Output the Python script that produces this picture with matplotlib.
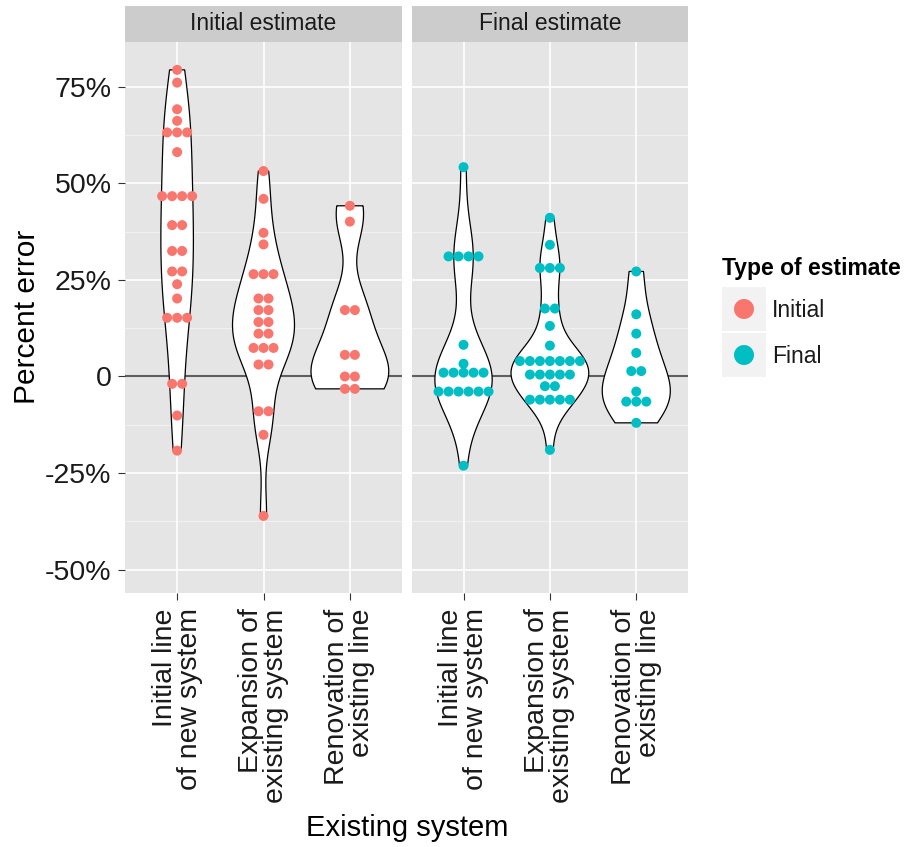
import matplotlib
matplotlib.use("Agg")
import matplotlib.pyplot as plt
import matplotlib.patches as patches
import numpy as np

plt.rcParams['font.family'] = ['Liberation Sans', 'DejaVu Sans']

# percent error per project, read as dotplot bin centres
categories = ["Initial line\nof new system", "Expansion of\nexisting system", "Renovation of\nexisting line"]
panels = ["Initial estimate", "Final estimate"]
estimate_types = ["Initial", "Final"]

initial_new = [79.4, 76.1, 69.2, 66.2, 63.2, 63.2, 63.2, 58.1, 46.7, 46.7, 46.7, 46.7,
               39.2, 39.2, 32.5, 32.5, 27.2, 27.2, 23.9, 20.2, 15.2, 15.2, 15.2,
               -1.9, -1.9, -10.1, -19.2]
initial_expansion = [53.2, 46.0, 37.2, 34.2, 26.5, 26.5, 26.5, 20.2, 20.2, 17.2, 17.2,
                     14.1, 14.1, 11.1, 11.1, 7.4, 7.4, 7.4, 3.1, 3.1, -9.0, -9.0,
                     -15.1, -36.1]
initial_renovation = [44.2, 40.1, 17.2, 17.2, 5.6, 5.6, 0.0, 0.0, -3.2, -3.2]

final_new = [54.2, 31.1, 31.1, 31.1, 31.1, 8.2, 3.3, 1.0, 1.0, 1.0, 1.0, 1.0,
             -3.9, -3.9, -3.9, -3.9, -3.9, -3.9, -23.1]
final_expansion = [41.1, 34.1, 28.1, 28.1, 28.1, 17.6, 17.6, 13.1, 8.0,
                   4.0, 4.0, 4.0, 4.0, 4.0, 4.0, 4.0, 0.5, 0.5, 0.5, 0.5, 0.5,
                   -2.5, -2.5, -6.0, -6.0, -6.0, -6.0, -6.0, -19.0]
final_renovation = [27.2, 16.1, 11.1, 6.1, 1.4, 1.4, -3.9, -6.5, -6.5, -6.5, -12.0]

panel_data = [[initial_new, initial_expansion, initial_renovation],
              [final_new, final_expansion, final_renovation]]
colors = ["#F8766D", "#00BFC4"]

yticks = [-50, -25, 0, 25, 50, 75]
yticklabels = ["-50%", "-25%", "0", "25%", "50%", "75%"]

W, H = 908, 847
fig = plt.figure(figsize=(W / 100, H / 100), dpi=100)
fig.patch.set_facecolor("white")


def fx(px):
    return px / W


def fy(py):
    return 1 - py / H


panel_w = 276.4
panel_top, panel_bot = 41.7, 593.0
strip_top = 6.0
lefts = [125.3, 411.7]
ylim = (-56.06, 86.69)
xlim = (0.4, 3.6)
px_per_unit = panel_w / (xlim[1] - xlim[0])
dot_px = 10.0


def kde(vals, grid):
    v = np.asarray(vals, float)
    n = len(v)
    sd = v.std(ddof=1)
    q75, q25 = np.percentile(v, [75, 25])
    lo = min(sd, (q75 - q25) / 1.34)
    bw = 0.9 * lo * n ** -0.2
    z = (grid[:, None] - v[None, :]) / bw
    return np.exp(-0.5 * z ** 2).sum(axis=1) / (n * bw * np.sqrt(2 * np.pi))


axes = []
for p, name in enumerate(panels):
    ax = fig.add_axes([fx(lefts[p]), fy(panel_bot), panel_w / W, (panel_bot - panel_top) / H])
    axes.append(ax)
    ax.set_facecolor("#E5E5E5")
    ax.set_xlim(*xlim)
    ax.set_ylim(*ylim)
    for s in ax.spines.values():
        s.set_visible(False)

    # grid
    for y in np.arange(-62.5, 90, 25):
        ax.axhline(y, color="#F2F2F2", lw=0.7, zorder=0)
    for y in yticks:
        ax.axhline(y, color="white", lw=1.2, zorder=0.5)
    for x in range(1, 4):
        ax.axvline(x, color="white", lw=1.2, zorder=0.5)
    ax.axhline(0, color="#5f5f5f", lw=1.5, zorder=1)

    # violins, area-scaled within the panel
    grids, dens = [], []
    for vals in panel_data[p]:
        g = np.linspace(min(vals), max(vals), 512)
        grids.append(g)
        dens.append(kde(vals, g))
    dmax = max(d.max() for d in dens)
    for i, (g, d) in enumerate(zip(grids, dens)):
        half = 0.45 * d / dmax
        xs = np.concatenate([i + 1 - half, (i + 1 + half)[::-1]])
        ys = np.concatenate([g, g[::-1]])
        ax.fill(xs, ys, facecolor="white", edgecolor="black", lw=0.9, zorder=2)

    # centred dot stacks
    for i, vals in enumerate(panel_data[p]):
        uniq, counts = np.unique(vals, return_counts=True)
        xs, ys = [], []
        for u, c in zip(uniq, counts):
            for k in range(c):
                xs.append(i + 1 + (k - (c - 1) / 2) * dot_px / px_per_unit)
                ys.append(u)
        ax.scatter(xs, ys, s=(dot_px * 0.72) ** 2, color=colors[p], edgecolors="none", zorder=3)

    ax.set_xticks([1, 2, 3])
    ax.set_xticklabels(categories, rotation=90, fontsize=20.5, color="#1a1a1a",
                       va="top", ha="center", multialignment="right", linespacing=0.95)
    ax.tick_params(axis="x", length=5, width=0.8, color="#333333", pad=6)
    ax.set_yticks(yticks)
    if p == 0:
        ax.set_yticklabels(yticklabels, fontsize=20.5, color="#1a1a1a")
        ax.tick_params(axis="y", length=5, width=0.8, color="#333333", pad=5)
    else:
        ax.tick_params(axis="y", length=0, labelleft=False)

    # facet strip
    strip_h = (panel_top - strip_top) / (panel_bot - panel_top)
    ax.add_patch(patches.Rectangle((0, 1), 1, strip_h, transform=ax.transAxes,
                                   facecolor="#CCCCCC", edgecolor="none", clip_on=False))
    ax.text(0.5, 1 + strip_h / 2, name, transform=ax.transAxes, ha="center", va="center",
            fontsize=16.5, color="#1a1a1a")

fig.text(fx(27), fy(317), "Percent error", rotation=90, ha="center", va="center",
         fontsize=21.5, color="black")
fig.text(fx(407), fy(828), "Existing system", ha="center", va="center",
         fontsize=21, color="black")

# legend
fig.text(fx(722), fy(269), "Type of estimate", ha="left", va="center",
         fontsize=16.5, fontweight="bold", color="black")
for j, lab in enumerate(estimate_types):
    top = 287 + j * 46
    fig.patches.append(patches.Rectangle((fx(722), fy(top + 44)), 44 / W, 44 / H,
                                         transform=fig.transFigure, facecolor="#F2F2F2",
                                         edgecolor="none"))
    fig.patches.append(patches.Ellipse((fx(744), fy(top + 22)), 20 / W, 20 / H,
                                       transform=fig.transFigure, facecolor=colors[j],
                                       edgecolor="none"))
    fig.text(fx(772), fy(top + 23), lab, ha="left", va="center", fontsize=16.5, color="#1a1a1a")

fig.savefig("out.png", dpi=100)
